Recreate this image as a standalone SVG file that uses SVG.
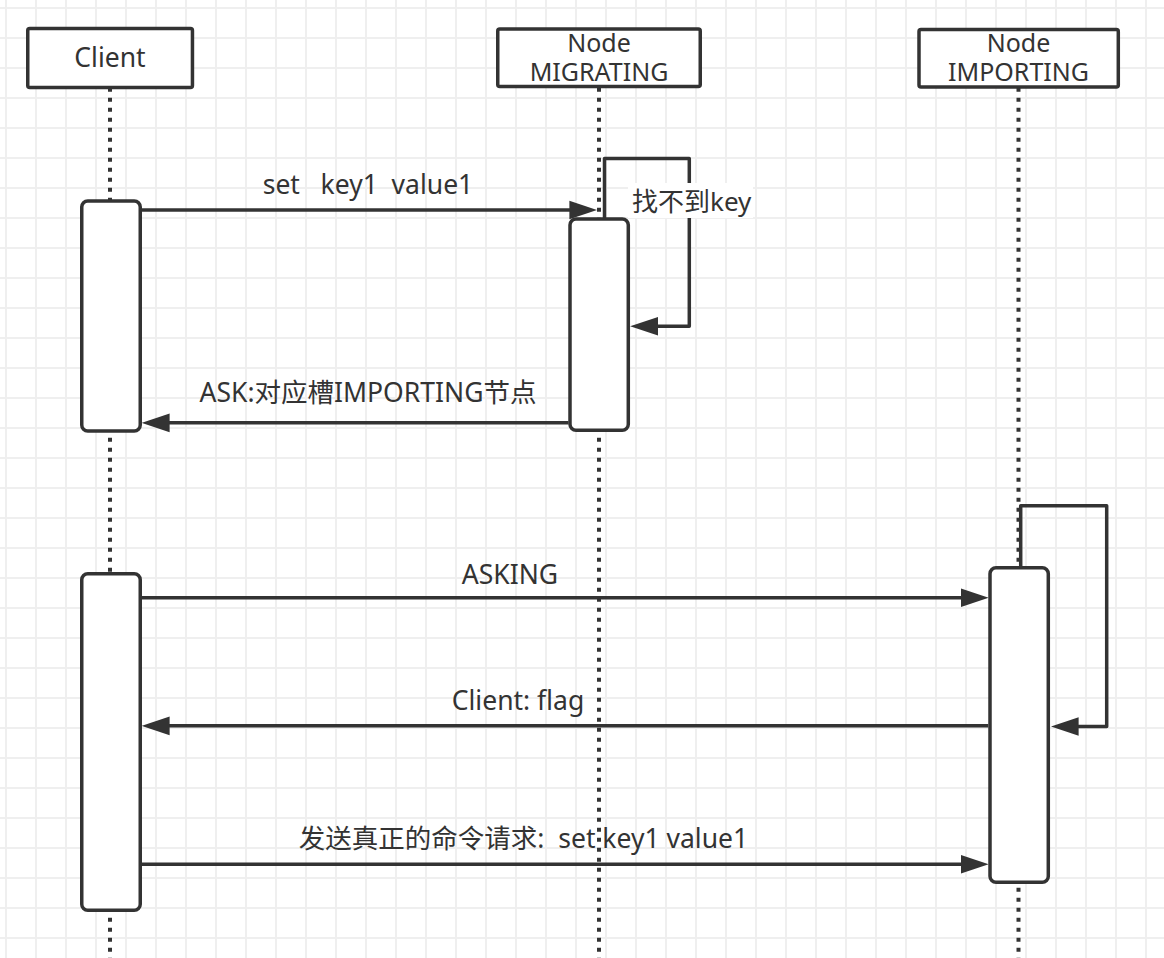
<svg xmlns="http://www.w3.org/2000/svg" width="1164" height="958" viewBox="0 0 1164 958">
  <style>
    .box { fill: #ffffff; stroke: #333333; stroke-width: 3.5; }
    .life { fill: none; stroke: #333333; stroke-width: 4; stroke-dasharray: 4 6; }
    .msg { fill: none; stroke: #333333; stroke-width: 3.5; stroke-linejoin: round; marker-end: url(#arrow); }
    text { font-family: "Noto Sans", "Open Sans", "Noto Sans CJK SC", sans-serif; fill: #333333; }
    .head { font-size: 25px; text-anchor: middle; }
    .lbl { font-size: 26.5px; text-anchor: middle; }
  </style>
  <defs>
    <pattern id="grid" x="-9" y="-7" width="30" height="30" patternUnits="userSpaceOnUse">
      <path d="M15,0 V30 M0,15 H30" fill="none" stroke="#efefef" stroke-width="2"/>
    </pattern>
    <marker id="arrow" markerUnits="userSpaceOnUse" markerWidth="28" markerHeight="20" viewBox="0 0 27 18" refX="17" refY="9" orient="auto">
      <path d="M0,0 L27,9 L0,18 Z" fill="#333333"/>
    </marker>
  </defs>

  <rect width="1164" height="958" fill="#ffffff"/>
  <rect width="1164" height="958" fill="url(#grid)"/>

  <g id="connectors">
    <g id="msg-set">
      <path class="msg" d="M142,210 H587"/>
      <text class="lbl" x="368" y="194" xml:space="preserve">set   key1  value1</text>
    </g>
    <g id="msg-self-migrating">
      <path class="msg" d="M604.5,219 V158.5 H689.3 V326.2 H640.5"/>
      <rect x="628" y="183" width="125" height="35" fill="#ffffff"/>
      <text x="632" y="211" style="font-size:26px">找不到key</text>
    </g>
    <g id="msg-ask">
      <path class="msg" d="M568.5,422.8 H152"/>
      <text class="lbl" x="368" y="402">ASK:对应槽IMPORTING节点</text>
    </g>
    <g id="msg-asking">
      <path class="msg" d="M142,597.7 H978.3"/>
      <text class="lbl" x="510" y="583.5">ASKING</text>
    </g>
    <g id="msg-self-importing">
      <path class="msg" d="M1020.7,566 V505.7 H1106.7 V726.5 H1061"/>
    </g>
    <g id="msg-flag">
      <path class="msg" d="M988.3,725.8 H152"/>
      <text class="lbl" x="518" y="709.5">Client: flag</text>
    </g>
    <g id="msg-real">
      <path class="msg" d="M142,864.3 H978.3"/>
      <text class="lbl" x="523.5" y="848" xml:space="preserve">发送真正的命令请求:  set key1 value1</text>
    </g>
  </g>

  <g id="client">
    <rect class="box" x="27.75" y="28.5" width="164.7" height="59" rx="2"/>
    <text x="110" y="67" style="font-size:26.5px;text-anchor:middle">Client</text>
    <line class="life" x1="110" y1="87.7" x2="110" y2="958"/>
    <rect class="box" x="81.75" y="201" width="58.5" height="230" rx="6"/>
    <rect class="box" x="81.75" y="573.75" width="58.5" height="336.5" rx="6"/>
  </g>

  <g id="node-migrating">
    <rect class="box" x="497.75" y="29" width="202.5" height="57.5" rx="2"/>
    <text class="head" x="599" y="51.7">Node<tspan x="599" dy="29">MIGRATING</tspan></text>
    <line class="life" x1="599" y1="87.7" x2="599" y2="958"/>
    <rect class="box" x="570" y="219" width="58.3" height="211.3" rx="6"/>
  </g>

  <g id="node-importing">
    <rect class="box" x="919" y="29.5" width="199.3" height="57.5" rx="2"/>
    <text class="head" x="1018.5" y="51.7">Node<tspan x="1018.5" dy="29">IMPORTING</tspan></text>
    <line class="life" x1="1018.5" y1="87.7" x2="1018.5" y2="958"/>
    <rect class="box" x="990" y="567.75" width="58.3" height="314.5" rx="6"/>
  </g>
</svg>
